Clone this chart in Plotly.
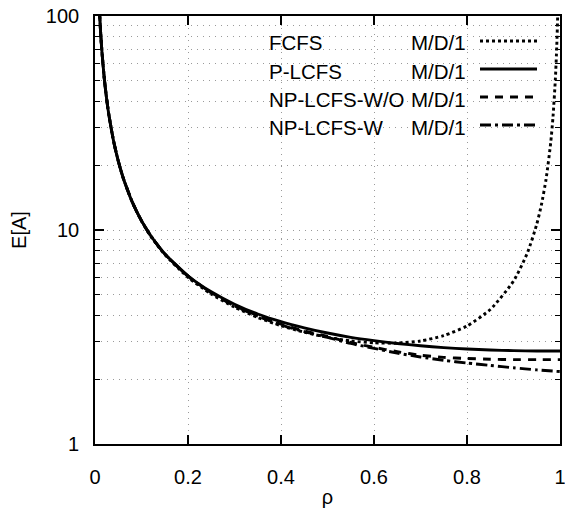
import plotly.graph_objects as go

# ---- data ----
rho_fcfs = [0.0095, 0.012, 0.015, 0.02, 0.025, 0.03, 0.04, 0.05, 0.06, 0.08, 0.10, 0.12, 0.15,
            0.20, 0.25, 0.30, 0.35, 0.40, 0.45, 0.50, 0.55, 0.60, 0.65, 0.70, 0.75, 0.80,
            0.85, 0.90, 0.93, 0.95, 0.96, 0.97, 0.98, 0.985, 0.99, 0.993, 0.995, 0.9965]
ea_fcfs = [106.3, 84.33, 67.66, 51.0, 41.0, 34.33, 26.0, 21.0, 17.67, 13.50, 11.0, 9.34, 7.68,
           6.01, 5.02, 4.36, 3.90, 3.57, 3.33, 3.15, 3.03, 2.97, 2.96, 3.03, 3.21, 3.56,
           4.25, 5.77, 7.83, 10.64, 13.11, 17.25, 25.55, 33.87, 50.53, 71.95, 100.5, 143.4]

rho = [0.0095, 0.012, 0.015, 0.02, 0.025, 0.03, 0.04, 0.05, 0.06, 0.08, 0.10, 0.12, 0.15,
       0.20, 0.25, 0.30, 0.35, 0.40, 0.45, 0.50, 0.55, 0.60, 0.65, 0.70, 0.75, 0.80,
       0.85, 0.90, 0.95, 1.00]
ea_plcfs = [106.3, 84.34, 67.67, 51.01, 41.01, 34.35, 26.02, 21.03, 17.70, 13.54, 11.05, 9.40, 7.75,
            6.11, 5.14, 4.50, 4.05, 3.73, 3.49, 3.30, 3.15, 3.04, 2.95, 2.88, 2.82, 2.78,
            2.75, 2.73, 2.72, 2.72]
ea_nplcfs_wo = [106.3, 84.33, 67.66, 51.0, 41.0, 34.34, 26.01, 21.02, 17.69, 13.53, 11.04, 9.39, 7.73,
                6.08, 5.10, 4.44, 3.98, 3.63, 3.38, 3.18, 2.98, 2.83, 2.70, 2.60, 2.54, 2.51,
                2.49, 2.48, 2.48, 2.48]
ea_nplcfs_w = [106.3, 84.33, 67.66, 51.0, 41.0, 34.34, 26.01, 21.02, 17.69, 13.53, 11.04, 9.39, 7.73,
               6.08, 5.09, 4.42, 3.96, 3.60, 3.35, 3.15, 2.95, 2.80, 2.66, 2.55, 2.46, 2.39,
               2.33, 2.27, 2.22, 2.18]

names = ["FCFS", "P-LCFS", "NP-LCFS-W/O", "NP-LCFS-W"]
model = "M/D/1"
dashes = ["3px,3px", "solid", "8px,7px", "11px,4px,3px,4px"]

FONT = "Liberation Sans, Arial, sans-serif"
W, H = 565, 508
L, R, T, B = 95, 5, 16, 64

fig = go.Figure()
series = [(rho_fcfs, ea_fcfs), (rho, ea_plcfs), (rho, ea_nplcfs_wo), (rho, ea_nplcfs_w)]
for (xs, ys), nm, d in zip(series, names, dashes):
    fig.add_trace(go.Scatter(x=xs, y=ys, mode="lines", name=nm,
                             line=dict(color="black", width=2.9, dash=d, shape="spline", smoothing=0.6),
                             showlegend=False))

# manual legend (text left, line sample right) in pixel -> paper coords
pw, ph = W - L - R, H - T - B
def px2x(px):
    return (px - L) / pw
def py2y(py):
    return 1 - (py - T) / ph

rows_y = [43, 71, 99, 127]
for nm, d, yy in zip(names, dashes, rows_y):
    fig.add_annotation(x=px2x(267), y=py2y(yy), xref="paper", yref="paper", text=nm,
                       showarrow=False, xanchor="left", yanchor="middle",
                       font=dict(family=FONT, size=20.5, color="black"))
    fig.add_annotation(x=px2x(468), y=py2y(yy), xref="paper", yref="paper", text=model,
                       showarrow=False, xanchor="right", yanchor="middle",
                       font=dict(family=FONT, size=20.5, color="black"))
    fig.add_shape(type="line", xref="paper", yref="paper",
                  x0=px2x(480), x1=px2x(537), y0=py2y(yy - 2), y1=py2y(yy - 2),
                  line=dict(color="black", width=2.9, dash=d))

grid = dict(showgrid=True, gridcolor="#9a9a9a", gridwidth=1, griddash="1px,5px")
fig.update_xaxes(range=[0, 1], dtick=0.2, ticks="inside", ticklen=9, tickwidth=1.5,
                 tickcolor="black", showline=True, linecolor="black", linewidth=1.6,
                 mirror="ticks", zeroline=False, ticklabelstandoff=14,
                 ticklabeloverflow="allow",
                 tickfont=dict(family=FONT, size=20, color="black"),
                 title=dict(text="ρ", font=dict(family=FONT, size=20, color="black"), standoff=6),
                 **grid)
fig.update_yaxes(type="log", range=[0, 2], dtick=1, ticks="inside", ticklen=9, tickwidth=1.5,
                 tickcolor="black", showline=True, linecolor="black", linewidth=1.6,
                 mirror="ticks", zeroline=False, ticklabelstandoff=10,
                 ticklabeloverflow="allow",
                 tickfont=dict(family=FONT, size=20, color="black"),
                 title=dict(text="E[A]", font=dict(family=FONT, size=20, color="black"), standoff=14),
                 minor=dict(dtick="D1", ticks="inside", ticklen=5, tickwidth=1.2, tickcolor="black",
                            showgrid=True, gridcolor="#9a9a9a", gridwidth=1, griddash="1px,5px"),
                 **grid)

fig.update_layout(width=W, height=H, margin=dict(l=L, r=R, t=T, b=B, autoexpand=False),
                  plot_bgcolor="white", paper_bgcolor="white",
                  font=dict(family=FONT, size=20, color="black"))

fig.write_html("out.html", config={"displayModeBar": False},
               post_script="document.body.style.margin='0';document.body.style.padding='0';")
